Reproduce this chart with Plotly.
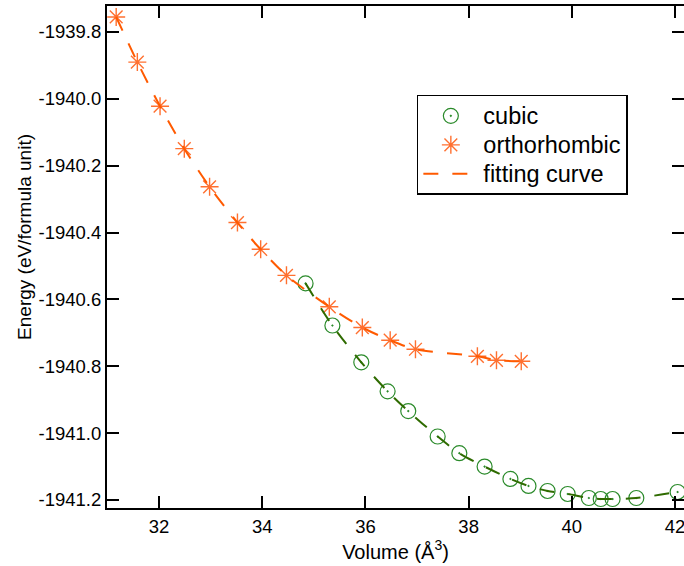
import plotly.graph_objects as go

# Orthorhombic data (volume in Å^3, energy in eV/formula unit)
ortho_vol = [31.17, 31.58, 32.02, 32.49, 32.98, 33.52, 33.97, 34.47, 35.30, 35.94,
             36.48, 36.97, 38.17, 38.54, 39.02]
ortho_energy = [-1939.755, -1939.890, -1940.022, -1940.149, -1940.263, -1940.370,
                -1940.450, -1940.528, -1940.622, -1940.684, -1940.722, -1940.749,
                -1940.770, -1940.782, -1940.785]

# Cubic data
cubic_vol = [34.84, 35.36, 35.92, 36.43, 36.83, 37.40, 37.82, 38.31, 38.81, 39.16,
             39.53, 39.92, 40.33, 40.56, 40.79, 41.25, 42.05]
cubic_energy = [-1940.552, -1940.678, -1940.788, -1940.875, -1940.934, -1941.010,
                -1941.060, -1941.100, -1941.137, -1941.158, -1941.173, -1941.182,
                -1941.194, -1941.197, -1941.197, -1941.194, -1941.176]

x_ticks = [32, 34, 36, 38, 40, 42]
y_tick_vals = [-1939.8, -1940.0, -1940.2, -1940.4, -1940.6, -1940.8, -1941.0, -1941.2]
y_tick_labels = ["-1939.8", "-1940.0", "-1940.2", "-1940.4", "-1940.6", "-1940.8",
                 "-1941.0", "-1941.2"]

X_RANGE = [30.992, 42.174]
Y_RANGE = [-1941.2239, -1939.7222]

FONT = "Liberation Sans, Arial, Helvetica, sans-serif"
ORANGE_M = "#FF7030"
ORANGE_L = "#FF5A00"
GREEN_M = "#2A8A2A"
GREEN_L = "#2F6B00"


def legend_label(s):
    return '<span style="font-size:23.5px">' + s + '</span>'


fig = go.Figure()

fig.add_trace(go.Scatter(
    x=cubic_vol, y=cubic_energy, mode="markers", name=legend_label("cubic"),
    marker=dict(symbol="circle-open-dot", size=15, color=GREEN_M,
                line=dict(color=GREEN_M, width=1.2)),
))
fig.add_trace(go.Scatter(
    x=ortho_vol, y=ortho_energy, mode="markers", name=legend_label("orthorhombic"),
    marker=dict(symbol="asterisk-open", size=15, color=ORANGE_M,
                line=dict(color=ORANGE_M, width=1.4)),
))
fig.add_trace(go.Scatter(
    x=ortho_vol, y=ortho_energy, mode="lines", name=legend_label("fitting curve"),
    line=dict(color=ORANGE_L, width=2, dash="15px,14px", shape="spline", smoothing=0.8),
))
fig.add_trace(go.Scatter(
    x=cubic_vol, y=cubic_energy, mode="lines", name="fitting curve (cubic)",
    showlegend=False,
    line=dict(color=GREEN_L, width=2, dash="15px,14px", shape="spline", smoothing=0.8),
))
# invisible trace to activate the right-hand tick axis
fig.add_trace(go.Scatter(
    x=[X_RANGE[0]], y=[Y_RANGE[0]], mode="markers", yaxis="y2",
    marker=dict(opacity=0), showlegend=False, hoverinfo="skip",
))

fig.update_layout(
    width=684, height=566,
    margin=dict(l=107, r=0, t=6, b=58),
    paper_bgcolor="white", plot_bgcolor="white",
    font=dict(family=FONT, color="black", size=18),
    showlegend=True,
    legend=dict(
        x=0.537, y=0.823, xanchor="left", yanchor="top",
        bgcolor="white", bordercolor="black", borderwidth=1.5,
        font=dict(family=FONT, size=20, color="black"),
        itemwidth=55, tracegroupgap=0,
    ),
    xaxis=dict(
        range=X_RANGE, tickvals=x_ticks,
        ticks="inside", ticklen=12, tickwidth=2, tickcolor="black",
        showline=True, linewidth=2, linecolor="black", mirror="ticks",
        showgrid=False, zeroline=False, ticklabelstandoff=1,
        ticklabeloverflow="allow",
        tickfont=dict(size=18.5),
        title=dict(text="Volume (Å<sup>3</sup>)", font=dict(size=20), standoff=6),
    ),
    yaxis=dict(
        range=Y_RANGE, tickvals=y_tick_vals, ticktext=y_tick_labels,
        ticks="inside", ticklen=12, tickwidth=2, tickcolor="black",
        showline=True, linewidth=2, linecolor="black", mirror=False,
        showgrid=False, zeroline=False,
        tickfont=dict(size=18.5),
    ),
    yaxis2=dict(
        range=Y_RANGE, tickvals=y_tick_vals, overlaying="y", side="right",
        ticks="inside", ticklen=12, tickwidth=2, tickcolor="black",
        showline=False, showticklabels=False, showgrid=False, zeroline=False,
    ),
    annotations=[dict(
        text="Energy (eV/formula unit)", textangle=-90,
        xref="paper", yref="paper", x=-0.1421, y=0.540,
        xanchor="center", yanchor="middle", showarrow=False,
        font=dict(family=FONT, size=19, color="black"),
    )],
)

fig.write_html("out.html")
